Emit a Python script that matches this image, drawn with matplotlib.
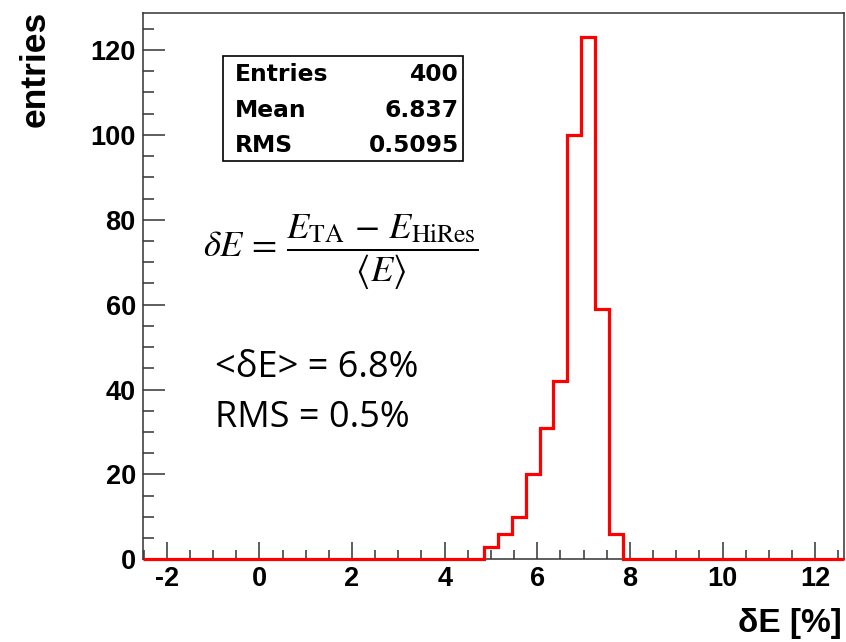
# Energy difference histogram, TA vs HiRes
import matplotlib
matplotlib.use("Agg")
import matplotlib.pyplot as plt
from matplotlib.ticker import MultipleLocator

plt.rcParams["axes.unicode_minus"] = False
plt.rcParams["mathtext.fontset"] = "stix"

# bins of the histogram (everything outside is empty)
bin_edges = [4.85, 5.15, 5.45, 5.75, 6.05, 6.35, 6.65, 6.95, 7.25, 7.55, 7.85]
counts = [3, 6, 10, 20, 31, 42, 100, 123, 59, 6]
x_range = [-2.52, 12.63]

stat_names = ["Entries", "Mean", "RMS"]
stat_values = ["400", "6.837", "0.5095"]

W, H = 846, 642
fig = plt.figure(figsize=(W / 100, H / 100), dpi=100)

def px(x, y):
    # pixel position (from top left) -> figure fraction
    return x / W, 1 - y / H

ax = fig.add_axes([142.7 / W, 1 - 559.3 / H, (844.3 - 142.7) / W, (559.3 - 12.7) / H])

# pad with empty bins so the line runs along zero over the whole axis
edges = [x_range[0]] + bin_edges + [x_range[1]]
vals = [0] + counts + [0]
ax.stairs(vals, edges, color="#ff0000", linewidth=2.3, baseline=None, clip_on=False, zorder=3)

ax.set_xlim(x_range)
ax.set_ylim(0, 128.8)

ax.xaxis.set_major_locator(MultipleLocator(2))
ax.xaxis.set_minor_locator(MultipleLocator(0.5))
ax.yaxis.set_major_locator(MultipleLocator(20))
ax.yaxis.set_minor_locator(MultipleLocator(5))

ax.tick_params(axis="both", which="both", direction="in", top=False, right=False,
               width=1.1, color="#333333")
ax.tick_params(axis="x", which="major", length=12.2, pad=5)
ax.tick_params(axis="x", which="minor", length=6.5)
ax.tick_params(axis="y", which="major", length=15.8, pad=5)
ax.tick_params(axis="y", which="minor", length=7.9)

for lab in ax.get_xticklabels() + ax.get_yticklabels():
    lab.set_fontfamily("Liberation Sans")
    lab.set_fontweight("bold")
    lab.set_fontsize(19.5)

for s in ax.spines.values():
    s.set_linewidth(1.1)
    s.set_color("#333333")

# axis titles (ROOT style, at the ends)
fig.text(*px(35, 11), "entries", rotation=90, ha="center", va="top",
         family="Liberation Sans", weight="bold", fontsize=25.5)
fig.text(*px(842, 632), "δE [%]", ha="right", va="baseline",
         family="Liberation Sans", weight="bold", fontsize=24)

# stats box
box = plt.Rectangle(px(222.7, 160.7), (463 - 222.7) / W, (160.7 - 56) / H,
                    transform=fig.transFigure, facecolor="white",
                    edgecolor="black", linewidth=1.2, zorder=5)
fig.add_artist(box)
row_base = [80.7, 116.7, 151.7]
for name, val, yb in zip(stat_names, stat_values, row_base):
    fig.text(*px(235, yb), name, ha="left", va="baseline", family="DejaVu Sans",
             weight="bold", fontsize=16.8, zorder=6)
    fig.text(*px(459, yb), val, ha="right", va="baseline", family="DejaVu Sans",
             weight="bold", fontsize=16.8, zorder=6)

# formula and summary
fig.text(*px(203, 257),
         r"$\delta E\,=\,\dfrac{E_{\rm TA}\,-\,E_{\rm HiRes}}{\left\langle E \right\rangle}$",
         ha="left", va="baseline", fontsize=26.3)
fig.text(*px(215, 377), "<δE> = 6.8%", ha="left", va="baseline",
         family="Open Sans", fontsize=26)
fig.text(*px(215, 427), "RMS = 0.5%", ha="left", va="baseline",
         family="Open Sans", fontsize=26)

fig.savefig("out.png", dpi=100)
